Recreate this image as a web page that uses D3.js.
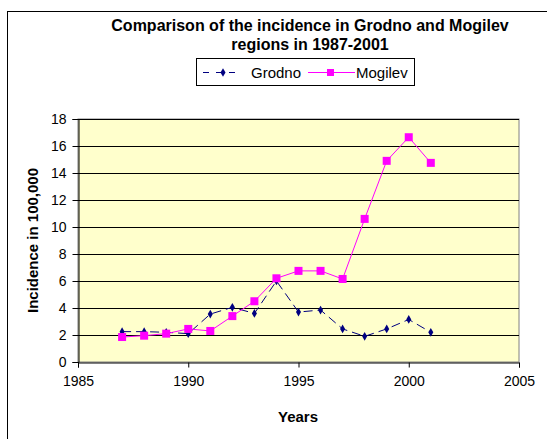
<!DOCTYPE html>
<html>
<head>
<meta charset="utf-8">
<script src="https://cdn.jsdelivr.net/npm/d3@7"></script>
<style>
  body { margin: 0; background: #fff; }
  svg text { font-family: "Liberation Sans", Arial, sans-serif; }
</style>
</head>
<body>
<div id="chart"></div>
<script>
// 数据
const years = [1987, 1988, 1989, 1990, 1991, 1992, 1993, 1994, 1995, 1996, 1997, 1998, 1999, 2000, 2001];
const grodno = [2.25, 2.25, 2.2, 2.1, 3.55, 4.05, 3.6, 6.0, 3.7, 3.85, 2.45, 1.9, 2.45, 3.15, 2.2];
const mogilev = [1.85, 1.95, 2.1, 2.45, 2.3, 3.4, 4.5, 6.2, 6.75, 6.75, 6.15, 10.6, 14.9, 16.65, 14.75];
const xTicks = [1985, 1990, 1995, 2000, 2005];
const yTicks = [0, 2, 4, 6, 8, 10, 12, 14, 16, 18];

const width = 547, height = 439;
const m = { left: 78, right: 28, top: 119, bottom: 77 };

const svg = d3.select('#chart').append('svg')
  .attr('width', width).attr('height', height);

// 外框
svg.append('rect')
  .attr('x', 7.5).attr('y', 11.5)
  .attr('width', 600).attr('height', 600)
  .attr('fill', '#fff').attr('stroke', '#000').attr('stroke-width', 1);

const x = d3.scaleLinear().domain([1985, 2005]).range([m.left, width - m.right]);
const y = d3.scaleLinear().domain([0, 18]).range([height - m.bottom, m.top]);

// 绘图区
svg.append('rect')
  .attr('x', x(1985)).attr('y', y(18))
  .attr('width', x(2005) - x(1985)).attr('height', y(0) - y(18))
  .attr('fill', '#ffffcc').attr('stroke', '#808080');

// 网格线
svg.append('g').selectAll('line')
  .data(yTicks.filter(d => d > 0)).enter()
  .append('line')
  .attr('x1', x(1985)).attr('x2', x(2005))
  .attr('y1', d => Math.round(y(d)) + 0.5).attr('y2', d => Math.round(y(d)) + 0.5)
  .attr('stroke', '#000').attr('stroke-width', 1);

// 坐标轴
const xAxis = svg.append('g')
  .attr('transform', 'translate(0,' + (Math.round(y(0)) + 0.5) + ')')
  .call(d3.axisBottom(x).tickValues(xTicks).tickFormat(d3.format('d')).tickSizeOuter(0).tickSize(5).tickPadding(9));
const yAxis = svg.append('g')
  .attr('transform', 'translate(' + (Math.round(x(1985)) + 0.5) + ',0)')
  .call(d3.axisLeft(y).tickValues(yTicks).tickSizeOuter(0).tickSize(6).tickPadding(6));
[xAxis, yAxis].forEach(a => {
  a.selectAll('path, line').attr('stroke', '#000');
  a.selectAll('text').attr('fill', '#000').style('font-size', '14px')
    .style('font-family', '"Liberation Sans", Arial, sans-serif');
});

// 标题
svg.append('text').attr('x', 310).attr('y', 31)
  .attr('text-anchor', 'middle').style('font-size', '16px').style('font-weight', 'bold')
  .text('Comparison of the incidence in Grodno and Mogilev');
svg.append('text').attr('x', 310).attr('y', 50)
  .attr('text-anchor', 'middle').style('font-size', '16px').style('font-weight', 'bold')
  .text('regions in 1987-2001');

// 轴标题
svg.append('text').attr('x', 298).attr('y', 422)
  .attr('text-anchor', 'middle').style('font-size', '15px').style('font-weight', 'bold')
  .text('Years');
svg.append('text')
  .attr('transform', 'translate(38,' + ((y(0) + y(18)) / 2) + ') rotate(-90)')
  .attr('text-anchor', 'middle').style('font-size', '15px').style('font-weight', 'bold')
  .text('Incidence in 100,000');

// 折线
const line = d3.line().x(d => x(d[0])).y(d => y(d[1]));
const gData = years.map((yr, i) => [yr, grodno[i]]);
const mData = years.map((yr, i) => [yr, mogilev[i]]);

svg.append('path').datum(gData).attr('d', line)
  .attr('fill', 'none').attr('stroke', '#000080').attr('stroke-width', 1)
  .attr('stroke-dasharray', '9,5');
svg.append('path').datum(mData).attr('d', line)
  .attr('fill', 'none').attr('stroke', '#ff00ff').attr('stroke-width', 1);

const diamond = d3.symbol().type(d3.symbolDiamond).size(22);
svg.append('g').selectAll('path')
  .data(gData).enter().append('path')
  .attr('d', diamond)
  .attr('transform', d => 'translate(' + x(d[0]) + ',' + y(d[1]) + ')')
  .attr('fill', '#000080');
svg.append('g').selectAll('rect')
  .data(mData).enter().append('rect')
  .attr('x', d => x(d[0]) - 4).attr('y', d => y(d[1]) - 4)
  .attr('width', 8).attr('height', 8)
  .attr('fill', '#ff00ff');

// 图例
const lg = svg.append('g');
lg.append('rect').attr('x', 196.5).attr('y', 58.5).attr('width', 218).attr('height', 27)
  .attr('fill', '#fff').attr('stroke', '#000');
lg.append('line').attr('x1', 203).attr('x2', 242).attr('y1', 72.5).attr('y2', 72.5)
  .attr('stroke', '#000080').attr('stroke-dasharray', '6,7');
lg.append('path').attr('d', diamond).attr('transform', 'translate(223,72.5)').attr('fill', '#000080');
lg.append('text').attr('x', 251).attr('y', 77.5).style('font-size', '15px').text('Grodno');
lg.append('line').attr('x1', 308).attr('x2', 355).attr('y1', 72.5).attr('y2', 72.5)
  .attr('stroke', '#ff00ff');
lg.append('rect').attr('x', 327).attr('y', 69).attr('width', 7).attr('height', 7).attr('fill', '#ff00ff');
lg.append('text').attr('x', 356).attr('y', 77.5).style('font-size', '15px').text('Mogilev');
</script>
</body>
</html>
